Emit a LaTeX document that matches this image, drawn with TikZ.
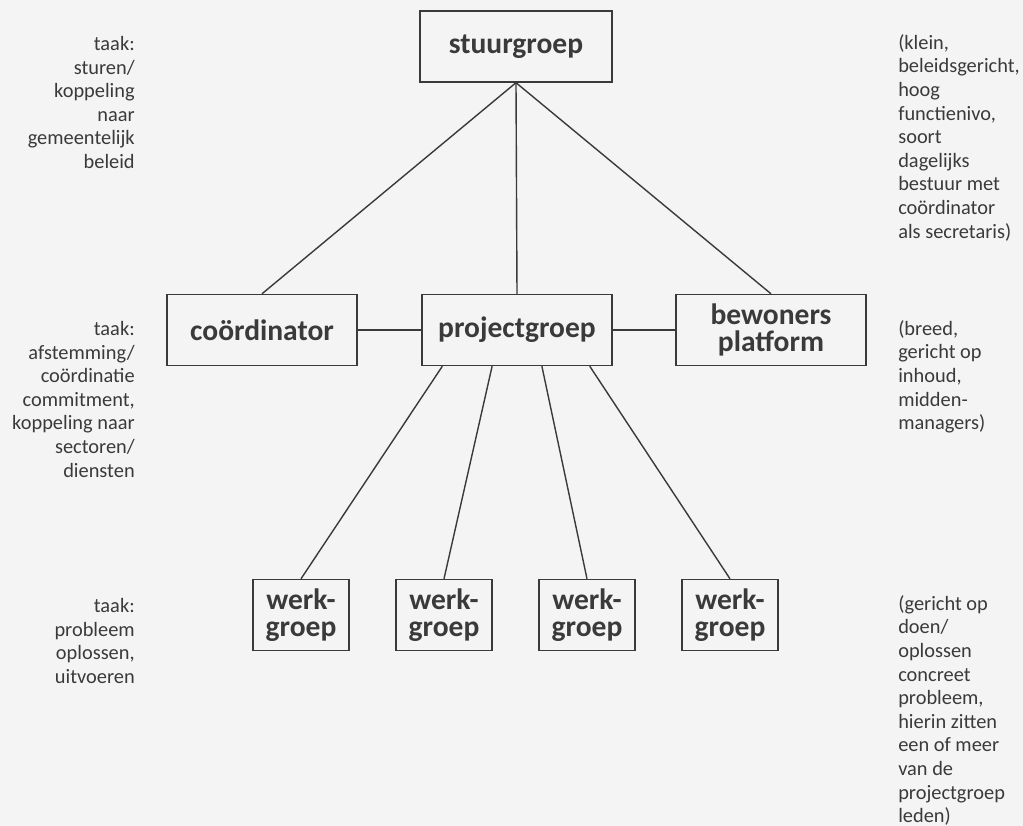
\documentclass[tikz,border=0pt]{standalone}
\usepackage{fontspec}
\setmainfont{Carlito}
\usetikzlibrary{calc}
\definecolor{ink}{HTML}{3A3A3A}
\definecolor{paper}{HTML}{F4F4F4}

\begin{document}
\begin{tikzpicture}[
  x=0.25mm,y=-0.25mm,
  box/.style={draw=ink,line width=0.35mm,text=ink,inner sep=2pt,align=center,
              minimum width=47.5mm,minimum height=17.75mm,
              font=\fontsize{21}{19.5}\selectfont\bfseries},
  wg/.style={box,minimum width=24mm},
  ln/.style={draw=ink,line width=0.35mm},
  lt/.style={text=ink,inner sep=0pt,align=right,anchor=north east,
             font=\fontsize{14.5}{16.8}\selectfont},
  rt/.style={text=ink,inner sep=0pt,align=left,anchor=north west,
             font=\fontsize{14.5}{16.8}\selectfont}]

 \fill[paper] (0,0) rectangle (1023,826);
 \useasboundingbox (0,0) rectangle (1023,826);

 % ---- boxes ----
 \node[box,minimum width=48mm] (sg) at (516,46.5) {stuurgroep};
 \node[box] (co) at (262,330) {coördinator};
 \node[box] (pg) at (517,330) {projectgroep};
 \node[box] (bp) at (771,330) {bewoners\\platform};
 \node[wg] (w1) at (301,615) {werk-\\groep};
 \node[wg] (w2) at (444,615) {werk-\\groep};
 \node[wg] (w3) at (587,615) {werk-\\groep};
 \node[wg] (w4) at (730,615) {werk-\\groep};

 % ---- lines ----
 \draw[ln] (sg.south) -- (co.north);
 \draw[ln] (sg.south) -- (pg.north);
 \draw[ln] (sg.south) -- (bp.north);
 \draw[ln] (co) -- (pg);
 \draw[ln] (pg) -- (bp);
 \draw[ln] ($(pg.south west)!0.11!(pg.south east)$) -- (w1.north);
 \draw[ln] ($(pg.south west)!0.37!(pg.south east)$) -- (w2.north);
 \draw[ln] ($(pg.south west)!0.63!(pg.south east)$) -- (w3.north);
 \draw[ln] ($(pg.south west)!0.88!(pg.south east)$) -- (w4.north);

 % ---- left: tasks ----
 \node[lt] (t1) at (135,36) {taak:\\sturen/\\koppeling\\naar\\gemeentelijk\\beleid};
 \node[lt] (t2) at (135,321) {taak:\\afstemming/\\coördinatie\\commitment,\\koppeling naar\\sectoren/\\diensten};
 \node[lt] (t3) at (135,598) {taak:\\probleem\\oplossen,\\uitvoeren};

 % ---- right: remarks ----
 \node[rt] (r1) at (898,34) {(klein,\\beleidsgericht,\\hoog\\functienivo,\\soort\\dagelijks\\bestuur met\\coördinator\\als secretaris)};
 \node[rt] (r2) at (898,320) {(breed,\\gericht op\\inhoud,\\midden-\\managers)};
 \node[rt] (r3) at (898,595) {(gericht op\\doen/\\oplossen\\concreet\\probleem,\\hierin zitten\\een of meer\\van de\\projectgroep\\leden)};
\end{tikzpicture}
\end{document}
